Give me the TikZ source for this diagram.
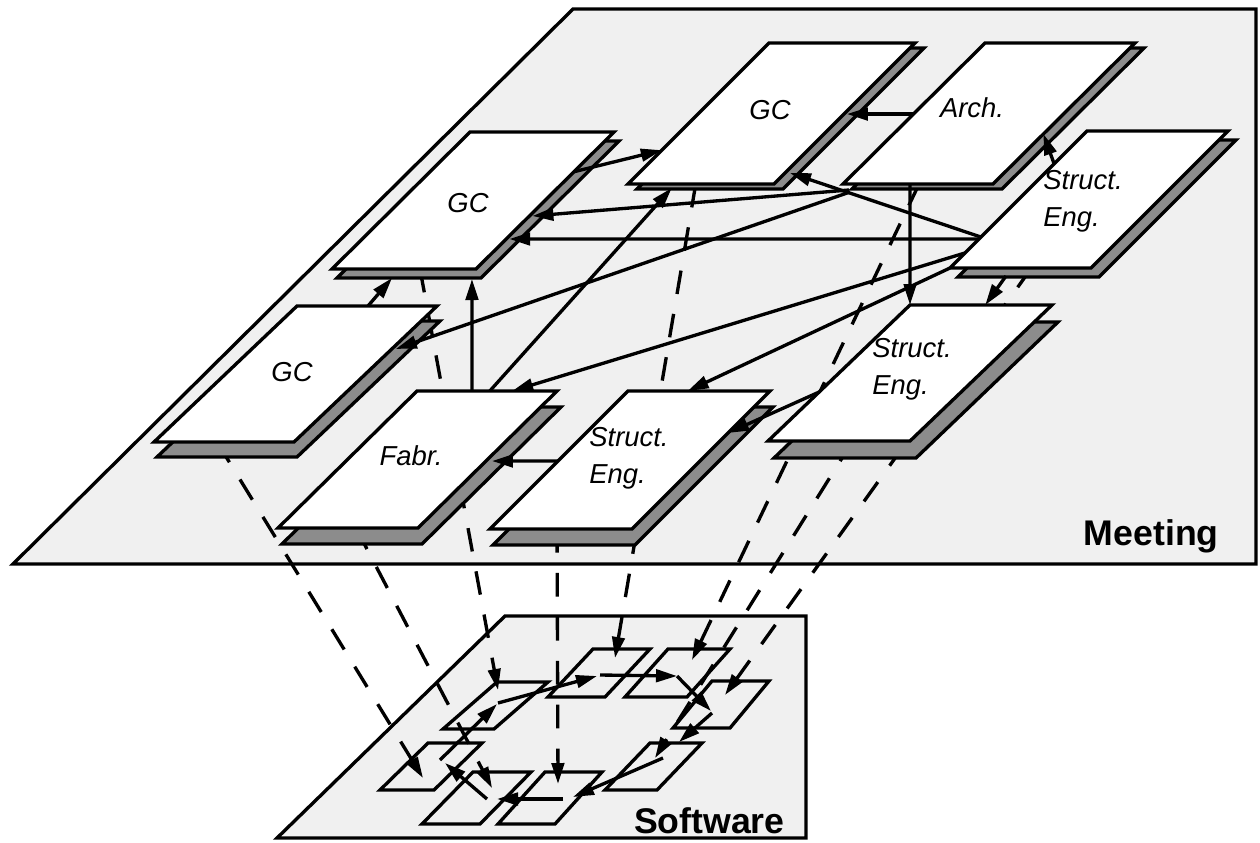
\documentclass[tikz,border=0pt]{standalone}
\usepackage{fontspec}
\setmainfont{Liberation Sans}
\usetikzlibrary{arrows.meta,calc}
\newcommand\defpar[6]{%
  \coordinate (#1-tl) at (#2,#3);
  \coordinate (#1-tr) at (#2+#6,#3);
  \coordinate (#1-bl) at (#4,#5);
  \coordinate (#1-br) at (#4+#6,#5);}
\newcommand\drawpar[3]{%
  \draw[shade] ($(#1-tl)+(#2,#3)$) -- ($(#1-tr)+(#2,#3)$) -- ($(#1-br)+(#2,#3)$) -- ($(#1-bl)+(#2,#3)$) -- cycle;
  \draw[face] (#1-tl) -- (#1-tr) -- (#1-br) -- (#1-bl) -- cycle;}
\newcommand\drawmini[1]{%
  \draw[mini] (#1-tl) -- (#1-tr) -- (#1-br) -- (#1-bl) -- cycle;}
\begin{document}
\begin{tikzpicture}[x=0.02cm,y=-0.02cm,line join=miter,
  arr/.style={line width=1.9pt,-{Triangle[length=0.42cm,width=0.25cm]}},
  darr/.style={line width=1.9pt,dash pattern=on 13.5pt off 11.5pt,-{Triangle[length=0.42cm,width=0.25cm]}},
  plane/.style={line width=1.9pt,fill=black!6},
  face/.style={line width=1.9pt,fill=white},
  shade/.style={line width=1.9pt,fill=black!45},
  mini/.style={line width=1.9pt},
  lbl/.style={font=\fontsize{15.6}{20.9}\selectfont\itshape,inner sep=0pt,align=left},
  title/.style={font=\fontsize{20.3}{24}\selectfont\bfseries,inner sep=0pt}]
\useasboundingbox (0,0) rectangle (1260,842);

% planes
\draw[plane] (13,564) -- (573,9) -- (1256,9) -- (1256,564) -- cycle;
\draw[plane] (277,838) -- (505,616) -- (806,616) -- (806,838) -- cycle;
\node[title,anchor=base east] (meet) at (1219,545) {Meeting};
\node[title,anchor=base east] (soft) at (785,833) {Software};

% meeting nodes (geometry)
\defpar{gct}{769}{43}{628}{184}{146}
\defpar{arch}{985}{43}{843}{184}{150}
\defpar{gca}{470}{132}{332}{269}{144}
\defpar{sea}{1087}{131}{950}{268}{141}
\defpar{gcb}{297}{306}{154}{442}{140}
\defpar{fab}{417}{391}{278}{528}{140}
\defpar{seb}{628}{391}{490}{529}{142}
\defpar{sec}{910}{305}{768}{441}{142}

% software mini nodes
\defpar{m1}{497}{682}{443}{729}{51}
\defpar{m2}{593}{649}{548}{697}{57}
\defpar{m3}{668}{649}{625}{697}{62}
\defpar{m4}{712}{681}{673}{728}{57}
\defpar{m5}{650}{743}{605}{790}{52}
\defpar{m6}{545}{772}{498}{824}{57}
\defpar{m7}{473}{772}{422}{824}{58}
\defpar{m8}{428}{743}{380}{790}{54}
\foreach \m in {m1,m2,m3,m4,m5,m6,m7,m8} {\drawmini{\m}}

% entry points in software nodes
\coordinate (m1-in) at (498,690);
\coordinate (m2-in) at (615,658);
\coordinate (m3-in) at (692,660);
\coordinate (m4-in) at (725,695);
\coordinate (m5-in) at (655,758);
\coordinate (m6-in) at (558,784);
\coordinate (m7-in) at (492,788);
\coordinate (m8-in) at (423,778);

% software ring
\coordinate (r1) at (498,703);
\coordinate (r2) at (600,675);
\coordinate (r3) at (677,676);
\coordinate (r4) at (711,711);
\coordinate (r5) at (663,758);
\coordinate (r6) at (563,799);
\coordinate (r7) at (487,799);
\coordinate (r8) at (440,760);
\draw[arr] (r1) -- ($(r2)+(-3,1)$);
\draw[arr] (r2) -- (r3);
\draw[arr] (r3) -- (r4);
\draw[arr] ($(r4)+(1,2)$) -- (679,742);
\draw[arr] (r5) -- (573,797);
\draw[arr] (r6) -- (497,799);
\draw[arr] (r7) -- ($(r8)+(5,3)$);
\draw[arr] (r8) -- ($(r1)+(-1,1)$);

% dashed mappings meeting -> software
\draw[darr] ($(gcb-bl)!0.45!(gcb-br)$) -- (m8-in);
\draw[darr] ($(fab-bl)!0.557!(fab-br)$) -- (m7-in);
\draw[darr] ($(gca-bl)!0.611!(gca-br)$) -- (m1-in);
\draw[darr] ($(seb-bl)!0.472!(seb-br)$) -- (m6-in);
\draw[darr] ($(gct-bl)!0.464!(gct-br)$) -- (m2-in);
\draw[darr] ($(arch-bl)!0.507!(arch-br)$) -- (m3-in);
\draw[darr] ($(sec-bl)!0.596!(sec-br)$) -- (m5-in);
\draw[darr] ($(sea-bl)!0.578!(sea-br)$) -- (m4-in);

% meeting nodes (drawn)
\drawpar{gct}{9}{5}
\drawpar{arch}{9}{5}
\drawpar{gca}{5}{9}
\drawpar{sea}{8}{9}
\drawpar{gcb}{3}{15}
\drawpar{fab}{4}{16}
\drawpar{seb}{3}{16}
\drawpar{sec}{6}{17}

\node[lbl] (gct-l) at (770,110) {GC};
\node[lbl] (arch-l) at (972,108) {Arch.};
\node[lbl] (gca-l) at (468,203) {GC};
\node[lbl] (sea-l) at (1083,201.5) {Struct.\\Eng.};
\node[lbl] (gcb-l) at (292,372) {GC};
\node[lbl] (fab-l) at (411,456) {Fabr.};
\node[lbl] (seb-l) at (629,458.5) {Struct.\\Eng.};
\node[lbl] (sec-l) at (912,369.5) {Struct.\\Eng.};

% meeting connectors
\draw[arr] ($(gca-tr)!0.29!(gca-br)$) -- ($(gct-tl)!0.76!(gct-bl)$);
\draw[arr] ($(arch-bl)+(6,6)$) -- ($(gca-tr)!0.613!(gca-br)+(3,0)$);
\draw[arr] ($(sea-tl)!0.788!(sea-bl)$) -- ($(gca-tr)!0.781!(gca-br)+(3,0)$);
\draw[arr] ($(sea-tl)!0.774!(sea-bl)$) -- ($(gct-tr)!0.922!(gct-br)+(5,0)$);
\draw[arr] ($(arch-tl)!0.504!(arch-bl)$) -- ($(gct-tr)!0.504!(gct-br)+(3,0)$);
\draw[arr] ($(sea-tl)!0.24!(sea-bl)$) -- ($(arch-tr)!0.645!(arch-br)$);
\draw[arr] ($(fab-tl)!0.393!(fab-tr)$) -- ($(gca-bl)!0.972!(gca-br)+(0,10)$);
\draw[arr] ($(fab-tl)!0.52!(fab-tr)$) -- ($(gct-bl)!0.3!(gct-br)+(0,4)$);
\draw[arr] ($(gcb-tl)!0.507!(gcb-tr)$) -- ($(gca-bl)!0.417!(gca-br)+(0,9)$);
\draw[arr] ($(arch-bl)+(7,8)$) -- ($(gcb-tr)!0.316!(gcb-br)+(4,0)$);
\draw[arr] ($(sea-tl)!0.89!(sea-bl)$) -- ($(fab-tl)!0.68!(fab-tr)$);
\draw[arr] (sea-bl) -- ($(seb-tl)!0.42!(seb-tr)$);
\draw[arr] ($(arch-bl)!0.447!(arch-br)$) -- (sec-tl);
\draw[arr] ($(sea-bl)!0.397!(sea-br)+(0,8)$) -- ($(sec-tl)!0.53!(sec-tr)$);
\draw[arr] ($(sec-tl)!0.64!(sec-bl)$) -- ($(seb-tr)!0.304!(seb-br)$);
\draw[arr] ($(seb-tl)!0.507!(seb-bl)$) -- ($(fab-tr)!0.511!(fab-br)+(6,0)$);
\end{tikzpicture}
\end{document}
